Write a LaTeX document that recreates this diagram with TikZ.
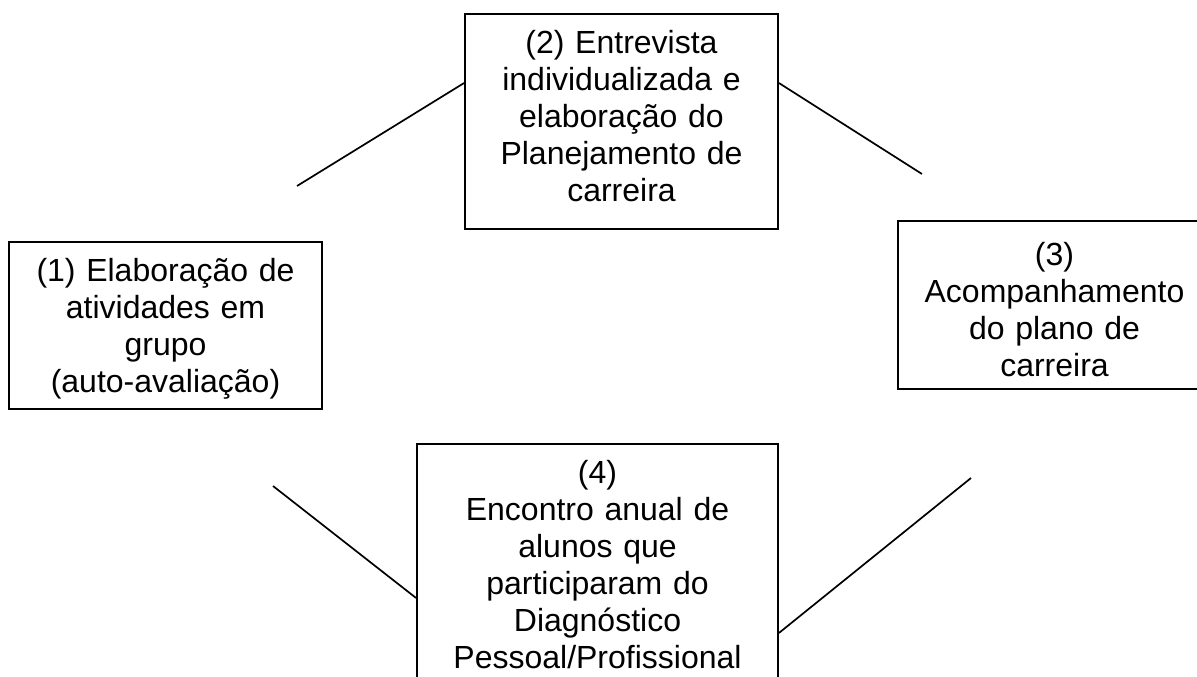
\documentclass[tikz,border=0pt]{standalone}
\usepackage{fontspec}
\setmainfont{Liberation Sans}
\usepackage{tikz}

\begin{document}
\begin{tikzpicture}[x=1pt,y=-1pt,
etapa/.style={draw, line width=1.8pt, anchor=north, align=center, font=\fontsize{32}{37}\selectfont, inner xsep=6pt, inner ysep=16pt, text height=24pt},
ligacao/.style={line width=1.7pt}]

\useasboundingbox (0,0) rectangle (1197,677);
\clip (0,0) rectangle (1197,677);

\node [etapa, text width=301pt, text depth=111pt] (etapa1) at (165.5,241) {(1) Elaboração de\\atividades em\\grupo\\(auto-avaliação)};
\node [etapa, text width=301pt, text depth=159pt] (etapa2) at (621.5,13) {(2) Entrevista\\individualizada e\\elaboração do\\Planejamento de\\carreira};
\node [etapa, text width=301pt, text height=29pt, text depth=107pt] (etapa3) at (1054.5,220) {(3)\\Acompanhamento\\do plano de\\carreira};
\node [etapa, text width=349pt, text depth=250pt] (etapa4) at (597.5,443) {(4)\\Encontro anual de\\alunos que\\participaram do\\Diagnóstico\\Pessoal/Profissional};

%\draw [color=black!30] (0,340) -- (1197,340);

\coordinate (fim12) at (297,186);
\coordinate (fim23) at (922,174);
\coordinate (fim41) at (273,486);
\coordinate (fim34) at (971,478);

\draw [ligacao] (fim12) -- ([yshift=-70pt]etapa2.north west);
\draw [ligacao] ([yshift=-70pt]etapa2.north east) -- (fim23);

\draw [ligacao] (fim41) -- ([yshift=-155pt]etapa4.north west);
\draw [ligacao] ([yshift=-190pt]etapa4.north east) -- (fim34);

\end{tikzpicture}
\end{document}
